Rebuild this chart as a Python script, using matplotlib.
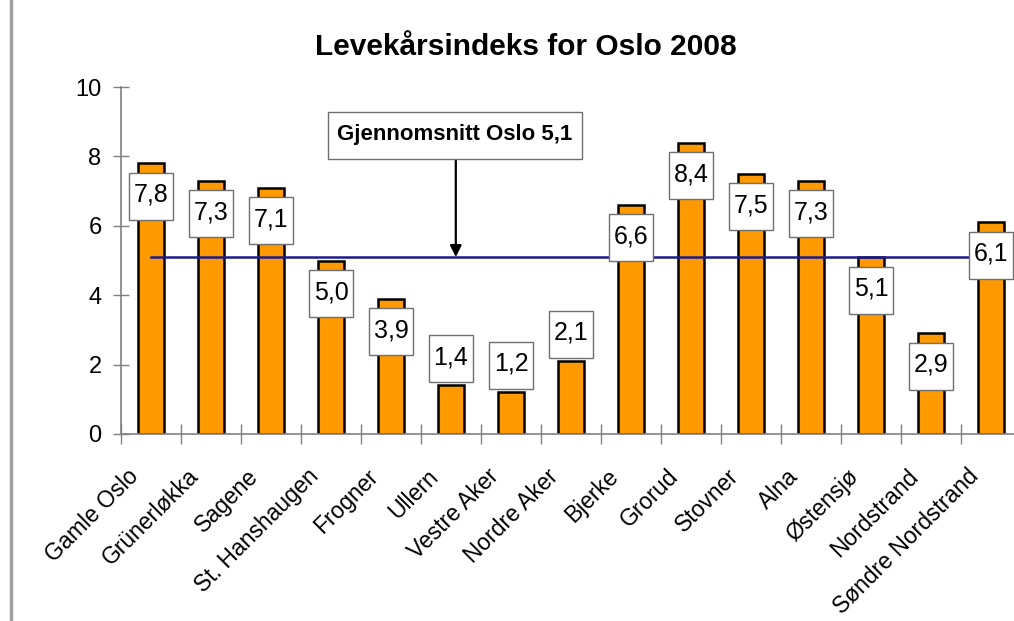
import matplotlib
matplotlib.use("Agg")
import matplotlib.pyplot as plt
from matplotlib.transforms import ScaledTranslation
from matplotlib.lines import Line2D
from matplotlib.patches import Rectangle

categories = ["Gamle Oslo", "Grünerløkka", "Sagene", "St. Hanshaugen", "Frogner",
              "Ullern", "Vestre Aker", "Nordre Aker", "Bjerke", "Grorud", "Stovner",
              "Alna", "Østensjø", "Nordstrand", "Søndre Nordstrand"]
values = [7.8, 7.3, 7.1, 5.0, 3.9, 1.4, 1.2, 2.1, 6.6, 8.4, 7.5, 7.3, 5.1, 2.9, 6.1]
average = 5.1
title = "Levekårsindeks for Oslo 2008"
avg_label = "Gjennomsnitt Oslo 5,1"
yticks = [0, 2, 4, 6, 8, 10]

plt.rcParams['font.family'] = ['Liberation Sans', 'DejaVu Sans']

W, H = 1014, 621
DPI = 100
fig = plt.figure(figsize=(W / DPI, H / DPI), dpi=DPI)
fig.patch.set_facecolor('white')

left, right = 121 / W, 1021 / W
bottom, top = (H - 434) / H, (H - 87) / H
ax = fig.add_axes([left, bottom, right - left, top - bottom])
ax.set_facecolor('none')

x = list(range(len(categories)))
ax.bar(x, values, width=0.42, color='#FF9900', edgecolor='black', linewidth=1.8, zorder=2)

ax.set_xlim(-0.5, len(categories) - 0.5)
ax.set_ylim(0, 10)

# average line
ax.plot([0, len(categories) - 1], [average, average], color='#1c1c8c', linewidth=1.8, zorder=3)


def px_box(xd, yd, dx, dy, w, h, **kw):
    """Rectangle of w x h pixels centred dx, dy pixels away from data point."""
    tr = fig.dpi_scale_trans + ScaledTranslation(xd, yd, ax.transData)
    r = Rectangle(((dx - w / 2) / DPI, (dy - h / 2) / DPI), w / DPI, h / DPI,
                  transform=tr, clip_on=False, **kw)
    ax.add_patch(r)
    return tr


# data labels
for i, v in enumerate(values):
    txt = f"{v:.1f}".replace('.', ',')
    dy = -33 if v >= 2.5 else 27
    px_box(i, v, 0, dy, 44, 47, facecolor='white', edgecolor='#707070', linewidth=1.0, zorder=5)
    ax.annotate(txt, xy=(i, v), xytext=(0, dy * 72 / DPI + 1), textcoords='offset points',
                ha='center', va='center', fontsize=18, color='black', zorder=6)

# average annotation
arrow_x = 5.08
box_y = 8.6
ax.annotate('', xy=(arrow_x, average), xytext=(arrow_x, box_y),
            arrowprops=dict(arrowstyle='-|>', color='black', lw=1.6, mutation_scale=17,
                            shrinkA=0, shrinkB=0), zorder=4)
px_box(arrow_x, box_y, -1, 0, 254, 47, facecolor='white', edgecolor='#707070', linewidth=1.0, zorder=5)
ax.annotate(avg_label, xy=(arrow_x, box_y), xytext=(-1 * 72 / DPI, 1), textcoords='offset points',
            ha='center', va='center', fontsize=16, fontweight='bold', color='black', zorder=6)

# axes styling
for s in ['top', 'right']:
    ax.spines[s].set_visible(False)
for s in ['left', 'bottom']:
    ax.spines[s].set_color('#808080')
    ax.spines[s].set_linewidth(1.2)

ax.set_yticks(yticks)
ax.set_yticklabels([str(t) for t in yticks])
ax.tick_params(axis='y', direction='inout', length=12, width=1.0, color='#808080',
               labelsize=17, pad=8, labelcolor='black')

ax.set_xticks([i - 0.5 for i in range(len(categories))] + [len(categories) - 0.5], minor=True)
ax.set_xticks(x)
ax.set_xticklabels(categories, rotation=45, ha='right', va='center', rotation_mode='anchor')
ax.tick_params(axis='x', which='major', length=0, labelsize=16.5, pad=28, labelcolor='black')
ax.tick_params(axis='x', which='minor', direction='inout', length=14, width=1.0, color='#808080')
shift = ScaledTranslation(-16 / DPI, 0, fig.dpi_scale_trans)
for lab in ax.get_xticklabels():
    lab.set_transform(lab.get_transform() + shift)

fig.text(526 / W, 1 - 47 / H, title, ha='center', va='center', fontsize=21.5, fontweight='bold')

# left page border line
fig.add_artist(Line2D([11 / W, 11 / W], [0, 1], transform=fig.transFigure, color='#a0a0a0', linewidth=2.5))

fig.savefig('out.png', dpi=DPI)
